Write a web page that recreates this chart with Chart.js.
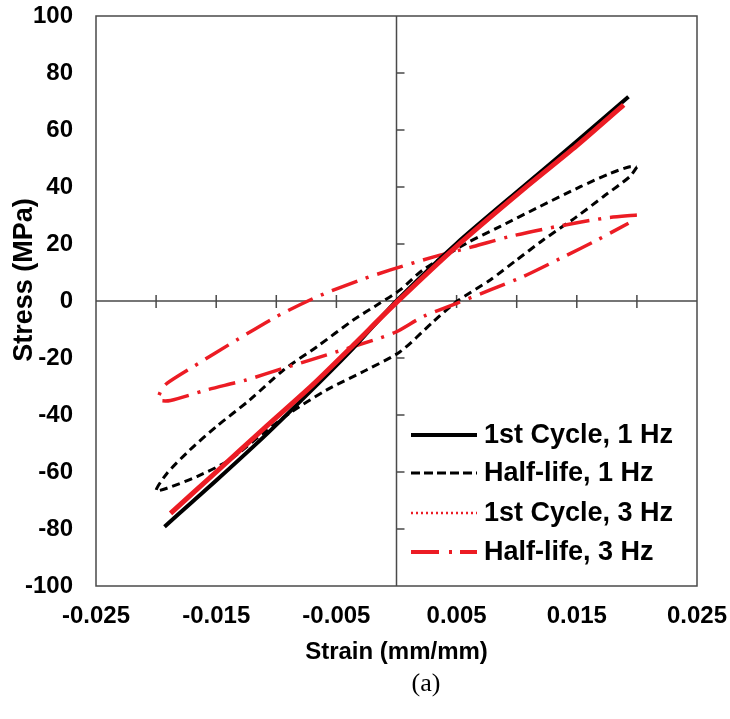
<!DOCTYPE html>
<html>
<head>
<meta charset="utf-8">
<title>Stress-strain loops</title>
<script src="https://cdn.jsdelivr.net/npm/chart.js@4.4.1/dist/chart.umd.min.js"></script>
<style>
    body { margin: 0; background: #fff; }
    #loopChart { display: block; }
</style>
</head>
<body>
<canvas id="loopChart" width="730" height="719"></canvas>
<script>
// Values: strain in mm/mm, stress in MPa

// 1st Cycle, 1 Hz
const cycle1Hz_strain = [-0.0193, -0.0170, -0.0150, -0.0110, -0.0070, -0.0036, 0.0000, 0.0050, 0.0105, 0.0150, 0.0193];
const cycle1Hz_stress = [-79.2, -70.5, -63.0, -47.5, -31.0, -16.5, 0.0, 20.2, 40.0, 56.0, 71.7];

// Half-life, 1 Hz (closed loop, starts at the upper right tip)
const half1Hz_strain = [0.0200, 0.0194, 0.0172, 0.0150, 0.0122, 0.0100, 0.0078, 0.0050, 0.0030, 0.0003,
    -0.0025, -0.0058, -0.0089, -0.0111, -0.0139, -0.0166, -0.0191, -0.0200,
    -0.0191, -0.0172, -0.0150, -0.0122, -0.0094, -0.0066, -0.0036, -0.0014, 0.0003,
    0.0022, 0.0058, 0.0086, 0.0119, 0.0153, 0.0178, 0.0194, 0.0200];
const half1Hz_stress = [47.0, 43.6, 36.6, 29.6, 21.4, 14.4, 7.4, -0.2, -7.5, -17.8,
    -24.2, -31.2, -39.4, -46.4, -55.8, -61.6, -65.7, -66.5,
    -60.5, -52.3, -44.1, -34.7, -24.2, -16.0, -6.7, -0.8, 3.9,
    10.9, 20.2, 26.1, 33.1, 40.1, 44.8, 47.1, 47.0];

// 1st Cycle, 3 Hz
const cycle3Hz_strain = [-0.0188, -0.0150, -0.0111, -0.0070, -0.0036, 0.0000, 0.0050, 0.0105, 0.0150, 0.0189];
const cycle3Hz_stress = [-74.5, -60.0, -45.0, -29.5, -15.5, -0.5, 19.2, 39.0, 54.5, 68.8];

// Half-life, 3 Hz (open loop, upper branch first)
const half3Hz_strain = [0.0200, 0.0172, 0.0133, 0.0094, 0.0064, 0.0031, -0.0005, -0.0030, -0.0066, -0.0100,
    -0.0133, -0.0169, -0.0191, -0.0196, -0.0198, -0.0188, -0.0158, -0.0125, -0.0094, -0.0058,
    -0.0019, 0.0000, 0.0022, 0.0050, 0.0078, 0.0105, 0.0139, 0.0167, 0.0193];
const half3Hz_stress = [30.2, 29.0, 26.1, 22.6, 19.1, 15.5, 10.9, 7.4, 1.5, -5.5,
    -13.7, -23.0, -28.9, -31.5, -34.7, -34.9, -31.2, -27.7, -23.6, -18.9,
    -13.7, -10.8, -5.5, -0.8, 3.9, 8.5, 15.5, 21.4, 27.3];

const seriesNames = ['1st Cycle, 1 Hz', 'Half-life, 1 Hz', '1st Cycle, 3 Hz', 'Half-life, 3 Hz'];

const RED = '#ec1c24';
const AXIS_FONT = 'Liberation Sans, Arial, sans-serif';

const toPoints = (xs, ys) => xs.map((v, i) => ({ x: v, y: ys[i] }));

// Frame, centre axes and their tick marks
const crossAxes = {
    id: 'crossAxes',
    beforeDatasetsDraw(chart) {
        const { ctx, chartArea: a, scales: { x, y } } = chart;
        const x0 = x.getPixelForValue(0);
        const y0 = y.getPixelForValue(0);
        ctx.save();
        ctx.strokeStyle = '#4a4a4a';
        ctx.lineWidth = 1.5;
        ctx.strokeRect(a.left, a.top, a.width, a.height);
        ctx.beginPath();
        ctx.moveTo(x0, a.top); ctx.lineTo(x0, a.bottom);
        ctx.moveTo(a.left, y0); ctx.lineTo(a.right, y0);
        x.ticks.forEach(t => {
            if (Math.abs(t.value) < 1e-9 || Math.abs(Math.abs(t.value) - 0.025) < 1e-9) return;
            const px = x.getPixelForValue(t.value);
            ctx.moveTo(px, y0 - 6); ctx.lineTo(px, y0 + 7);
        });
        y.ticks.forEach(t => {
            if (Math.abs(t.value) < 1e-9 || Math.abs(t.value) >= 100) return;
            const py = y.getPixelForValue(t.value);
            ctx.moveTo(x0, py); ctx.lineTo(x0 + 8, py);
        });
        ctx.stroke();
        ctx.restore();
    },
    afterDraw(chart) {
        const ctx = chart.ctx;
        ctx.save();
        ctx.fillStyle = '#000';
        ctx.textAlign = 'center';
        ctx.textBaseline = 'middle';

        // y axis title (sits a bit above the axis centre in the original)
        ctx.save();
        ctx.translate(25, 280);
        ctx.rotate(-Math.PI / 2);
        ctx.font = 'bold 27px ' + AXIS_FONT;
        ctx.fillText('Stress (MPa)', 0, 0);
        ctx.restore();

        // panel label
        ctx.font = '26px Liberation Serif, Times New Roman, serif';
        ctx.fillText('(a)', 426, 684);

        // legend in the lower right of the plot
        ctx.textAlign = 'left';
        ctx.font = 'bold 27px ' + AXIS_FONT;
        const rows = [435, 473, 513, 552];
        chart.data.datasets.forEach((ds, i) => {
            const ly = rows[i];
            ctx.save();
            ctx.strokeStyle = ds.borderColor;
            ctx.lineWidth = ds.legendWidth || ds.borderWidth;
            ctx.setLineDash(ds.legendDash || ds.borderDash || []);
            ctx.beginPath();
            ctx.moveTo(411, ly);
            ctx.lineTo(477, ly);
            ctx.stroke();
            ctx.restore();
            ctx.fillText(ds.label, 484, ly + 1);
        });
        ctx.restore();
    }
};

const ctx = document.getElementById('loopChart').getContext('2d');
new Chart(ctx, {
    type: 'scatter',
    data: {
        datasets: [
            {
                label: seriesNames[0],
                data: toPoints(cycle1Hz_strain, cycle1Hz_stress),
                borderColor: '#000',
                borderWidth: 4,
                order: 1
            },
            {
                label: seriesNames[1],
                data: toPoints(half1Hz_strain, half1Hz_stress),
                borderColor: '#000',
                borderWidth: 3,
                borderDash: [8, 5],
                legendDash: [9, 4],
                order: 3
            },
            {
                label: seriesNames[2],
                data: toPoints(cycle3Hz_strain, cycle3Hz_stress),
                borderColor: RED,
                borderWidth: 5,
                legendWidth: 2.5,
                legendDash: [2, 3],
                order: 0
            },
            {
                label: seriesNames[3],
                data: toPoints(half3Hz_strain, half3Hz_stress),
                borderColor: RED,
                borderWidth: 3.5,
                borderDash: [27, 9, 3, 9],
                legendWidth: 4,
                legendDash: [28, 10, 3, 8],
                order: 2
            }
        ].map(ds => Object.assign({ showLine: true, pointRadius: 0, fill: false, tension: 0.25 }, ds))
    },
    options: {
        responsive: false,
        animation: false,
        layout: { padding: { left: 0, top: 16, right: 33, bottom: 52 } },
        plugins: {
            legend: { display: false },
            tooltip: { enabled: false }
        },
        scales: {
            x: {
                type: 'linear',
                min: -0.025,
                max: 0.025,
                grid: { display: false, drawTicks: false },
                border: { display: false },
                ticks: {
                    stepSize: 0.005,
                    autoSkip: false,
                    maxRotation: 0,
                    padding: 16,
                    color: '#000',
                    font: { family: AXIS_FONT, size: 24, weight: 'bold' },
                    callback: function (value) {
                        const k = Math.round(value / 0.005);
                        return Math.abs(k) % 2 === 1 ? (k * 0.005).toFixed(3) : '';
                    }
                },
                title: {
                    display: true,
                    text: 'Strain (mm/mm)',
                    color: '#000',
                    font: { family: AXIS_FONT, size: 24, weight: 'bold' },
                    padding: { top: 9, bottom: 0 }
                },
                afterFit: function (scale) {
                    scale.height = 81;
                    scale.paddingLeft = 0;
                    scale.paddingRight = 0;
                }
            },
            y: {
                type: 'linear',
                min: -100,
                max: 100,
                grid: { display: false, drawTicks: false },
                border: { display: false },
                ticks: {
                    stepSize: 20,
                    padding: 23,
                    color: '#000',
                    font: { family: AXIS_FONT, size: 24, weight: 'bold' }
                },
                afterFit: function (scale) {
                    scale.width = 96;
                    scale.paddingTop = 0;
                    scale.paddingBottom = 0;
                }
            }
        }
    },
    plugins: [crossAxes]
});
</script>
</body>
</html>
